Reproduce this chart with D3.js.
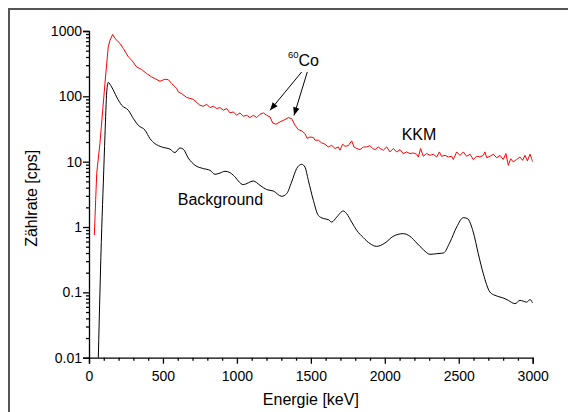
<!DOCTYPE html>
<html>
<head>
<meta charset="utf-8">
<script src="https://cdn.jsdelivr.net/npm/d3@7"></script>
<style>
  body { margin: 0; background: #fff; }
  text { font-family: "Liberation Sans", Arial, Helvetica, sans-serif; fill: #000; }
</style>
</head>
<body>
<svg id="chart" width="568" height="412"></svg>
<script>
// spectrum values: [energy keV, rate cps]
var kkmData = [
  [36,0.75],[52,6.6],[74,19.1],[108,159],[130,571],[142,723],[160,884],[176,768],[210,644],
  [232,540],[266,401],[289,357],[322,282],[356,257],[390,223],[424,198],[446,187],[480,170],
  [514,183],[536,180],[559,157],[593,132],[604,117],[627,110],[661,96],[705,90],
  [750,73.1],[773,70.5],[796,75.7],[818,67.3],[841,70.5],[863,65.0],[886,67.3],[908,61.3],
  [931,65.0],[953,55.8],[976,57.7],[998,51.3],[1021,55.8],[1043,49.6],[1066,51.3],[1089,47.3],
  [1111,51.3],[1134,47.3],[1156,53.2],[1179,55.8],[1201,51.3],[1224,48.4],[1242,39.2],[1264,37.4],
  [1291,40.6],[1325,44.1],[1348,47.3],[1370,45.6],[1393,36.1],[1415,31.0],[1438,29.6],[1460,26.9],
  [1476,22.6],[1494,23.9],[1517,23.4],[1528,21.3],[1551,21.3],[1573,19.4],[1596,18.5],[1618,16.8],
  [1641,17.8],[1663,15.9],[1686,16.8],[1697,15.0],[1715,18.5],[1731,17.2],[1753,17.6],[1776,20.8],
  [1792,16.8],[1810,15.9],[1832,15.3],[1855,16.8],[1877,16.8],[1900,17.6],[1918,15.9],[1934,15.3],
  [1956,16.8],[1968,15.9],[1990,15.0],[2013,16.8],[2035,14.1],[2058,15.9],[2080,14.1],[2103,15.3],
  [2125,13.3],[2148,14.1],[2170,13.3],[2193,13.6],[2215,13.0],[2227,11.8],[2242,15.9],[2260,12.1],
  [2283,13.3],[2306,12.5],[2328,13.0],[2351,11.8],[2369,14.1],[2384,12.1],[2407,12.5],[2430,11.8],
  [2452,12.1],[2463,10.8],[2486,14.1],[2508,12.5],[2531,14.1],[2553,12.1],[2576,13.0],[2598,10.8],
  [2621,12.1],[2644,11.8],[2666,12.5],[2677,14.1],[2689,11.5],[2711,12.1],[2734,13.0],[2756,11.5],
  [2779,12.5],[2801,10.8],[2819,13.3],[2835,8.8],[2851,11.1],[2869,9.9],[2891,10.8],[2914,11.8],
  [2932,10.5],[2948,12.5],[2964,10.3],[2982,13.0],[2993,11.1],[3000,9.9]
];

var bgData = [
  [63,0.01],[86,0.945],[97,4.89],[108,25.4],[120,117],[130,163],[153,139],[187,97.9],[221,73.1],
  [266,61.2],[300,45.7],[333,36.1],[379,30.3],[412,22.6],[446,18.9],[492,16.8],[548,15.5],
  [581,13.8],[615,16.2],[638,15.5],[671,11.4],[717,8.81],[773,7.84],[818,7.38],[852,6.41],
  [886,6.71],[920,7.13],[953,6.81],[976,6.19],[1043,4.46],[1111,5.06],[1156,4.35],[1201,3.74],
  [1246,3.56],[1303,2.95],[1337,3.25],[1370,4.89],[1404,7.84],[1438,9.12],[1460,8.29],[1483,5.19],
  [1517,2.56],[1550,1.51],[1584,1.35],[1618,1.30],[1641,1.19],[1675,1.42],[1719,1.76],[1742,1.60],
  [1776,1.19],[1810,0.89],[1855,0.688],[1900,0.557],[1945,0.506],[2001,0.569],[2057,0.721],
  [2125,0.792],[2170,0.721],[2216,0.569],[2260,0.451],[2306,0.382],[2351,0.391],[2396,0.400],
  [2441,0.589],[2486,1.0],[2531,1.39],[2558,1.35],[2598,0.838],[2632,0.391],[2666,0.193],
  [2711,0.101],[2745,0.090],[2779,0.0848],[2813,0.080],[2835,0.0754],[2880,0.0671],[2914,0.0754],
  [2959,0.071],[2982,0.0773],[3000,0.0686]
];

var xTicks = [0, 500, 1000, 1500, 2000, 2500, 3000];
var yTicks = [0.01, 0.1, 1, 10, 100, 1000];

// text labels placed in data units: [energy, rate]
var bgLabel = [600, 2.15];
var kkmLabel = [2114, 21.8];
var coLabel = [1345, 292];
var coArrows = [
  [[1438, 236], [1224, 61]],
  [[1476, 236], [1386, 51]]
];

// set the dimensions and margins of the graph
var margin = {top: 31, right: 35.3, bottom: 54.3, left: 89},
    width = 568 - margin.left - margin.right,
    height = 412 - margin.top - margin.bottom;

var svg = d3.select("#chart");

// outer frame (only top and left are inside the picture)
svg.append("path")
    .attr("d", "M9,412V9H568")
    .attr("fill", "none")
    .attr("stroke", "#555")
    .attr("stroke-width", 2);

var g = svg.append("g")
    .attr("transform", "translate(" + margin.left + "," + margin.top + ")");

var x = d3.scaleLinear().domain([0, 3000]).range([0, width]);
var y = d3.scaleLog().domain([0.01, 1000]).range([height, 0]);

svg.append("defs").append("clipPath").attr("id", "clip")
  .append("rect").attr("width", width).attr("height", height + 1);

var line = d3.line()
    .x(function(d) { return x(d[0]); })
    .y(function(d) { return y(d[1]); });

g.append("path")
    .datum(bgData)
    .attr("clip-path", "url(#clip)")
    .attr("fill", "none")
    .attr("stroke", "#000")
    .attr("stroke-width", 1)
    .attr("d", line.curve(d3.curveMonotoneX));

g.append("path")
    .datum(kkmData)
    .attr("clip-path", "url(#clip)")
    .attr("fill", "none")
    .attr("stroke", "#ff0000")
    .attr("stroke-width", 1)
    .attr("d", line.curve(d3.curveLinear));

// minor ticks
var xMinor = d3.range(0, 3001, 100).filter(function(v) { return v % 500 !== 0; });
var yMinor = [];
[0.01, 0.1, 1, 10, 100].forEach(function(dec) {
  for (var k = 2; k <= 9; k++) yMinor.push(dec * k);
});

g.append("g")
    .attr("class", "minor")
    .attr("transform", "translate(0," + height + ")")
    .call(d3.axisBottom(x).tickValues(xMinor).tickSize(3).tickFormat(""));

g.append("g")
    .attr("class", "minor")
    .call(d3.axisLeft(y).tickValues(yMinor).tickSize(3).tickFormat(""));

g.selectAll(".minor .domain").remove();

// Add the X Axis
g.append("g")
    .attr("transform", "translate(0," + height + ")")
    .call(d3.axisBottom(x).tickValues(xTicks).tickSizeOuter(0).tickSize(6).tickPadding(7)
      .tickFormat(d3.format("d")));

// Add the Y Axis
g.append("g")
    .call(d3.axisLeft(y).tickValues(yTicks).tickSizeOuter(0).tickSize(6).tickPadding(1)
      .tickFormat(function(d) { return String(d); }));

g.selectAll(".tick line, .domain")
    .attr("stroke", "#000")
    .attr("stroke-width", 1.3);

g.selectAll(".tick text")
    .style("font-size", "14px")
    .style("font-family", "'Liberation Sans', Arial, sans-serif")
    .attr("fill", "#000");

// axis titles
svg.append("text")
    .attr("x", margin.left + width / 2)
    .attr("y", 405)
    .attr("text-anchor", "middle")
    .style("font-size", "16px")
    .text("Energie [keV]");

svg.append("text")
    .attr("transform", "translate(37," + (margin.top + height / 2 + 4) + ") rotate(-90)")
    .attr("text-anchor", "middle")
    .style("font-size", "16px")
    .text("Zählrate [cps]");

// curve labels
g.append("text")
    .attr("x", x(bgLabel[0]))
    .attr("y", y(bgLabel[1]))
    .style("font-size", "16px")
    .text("Background");

g.append("text")
    .attr("x", x(kkmLabel[0]))
    .attr("y", y(kkmLabel[1]))
    .style("font-size", "16px")
    .text("KKM");

var co = g.append("text")
    .attr("x", x(coLabel[0]))
    .attr("y", y(coLabel[1]));
co.append("tspan")
    .attr("dy", -8)
    .style("font-size", "9.5px")
    .text("60");
co.append("tspan")
    .attr("dy", 8)
    .style("font-size", "16px")
    .text("Co");

// arrows
svg.select("defs").append("marker")
    .attr("id", "arrow")
    .attr("viewBox", "0 0 10 10")
    .attr("refX", 10)
    .attr("refY", 5)
    .attr("markerUnits", "userSpaceOnUse")
    .attr("markerWidth", 10)
    .attr("markerHeight", 8)
    .attr("orient", "auto")
  .append("path")
    .attr("d", "M0,1L10,5L0,9Z")
    .attr("fill", "#000");

coArrows.forEach(function(a) {
  g.append("line")
      .attr("x1", x(a[0][0]))
      .attr("y1", y(a[0][1]))
      .attr("x2", x(a[1][0]))
      .attr("y2", y(a[1][1]))
      .attr("stroke", "#000")
      .attr("stroke-width", 1)
      .attr("marker-end", "url(#arrow)");
});
</script>
</body>
</html>
